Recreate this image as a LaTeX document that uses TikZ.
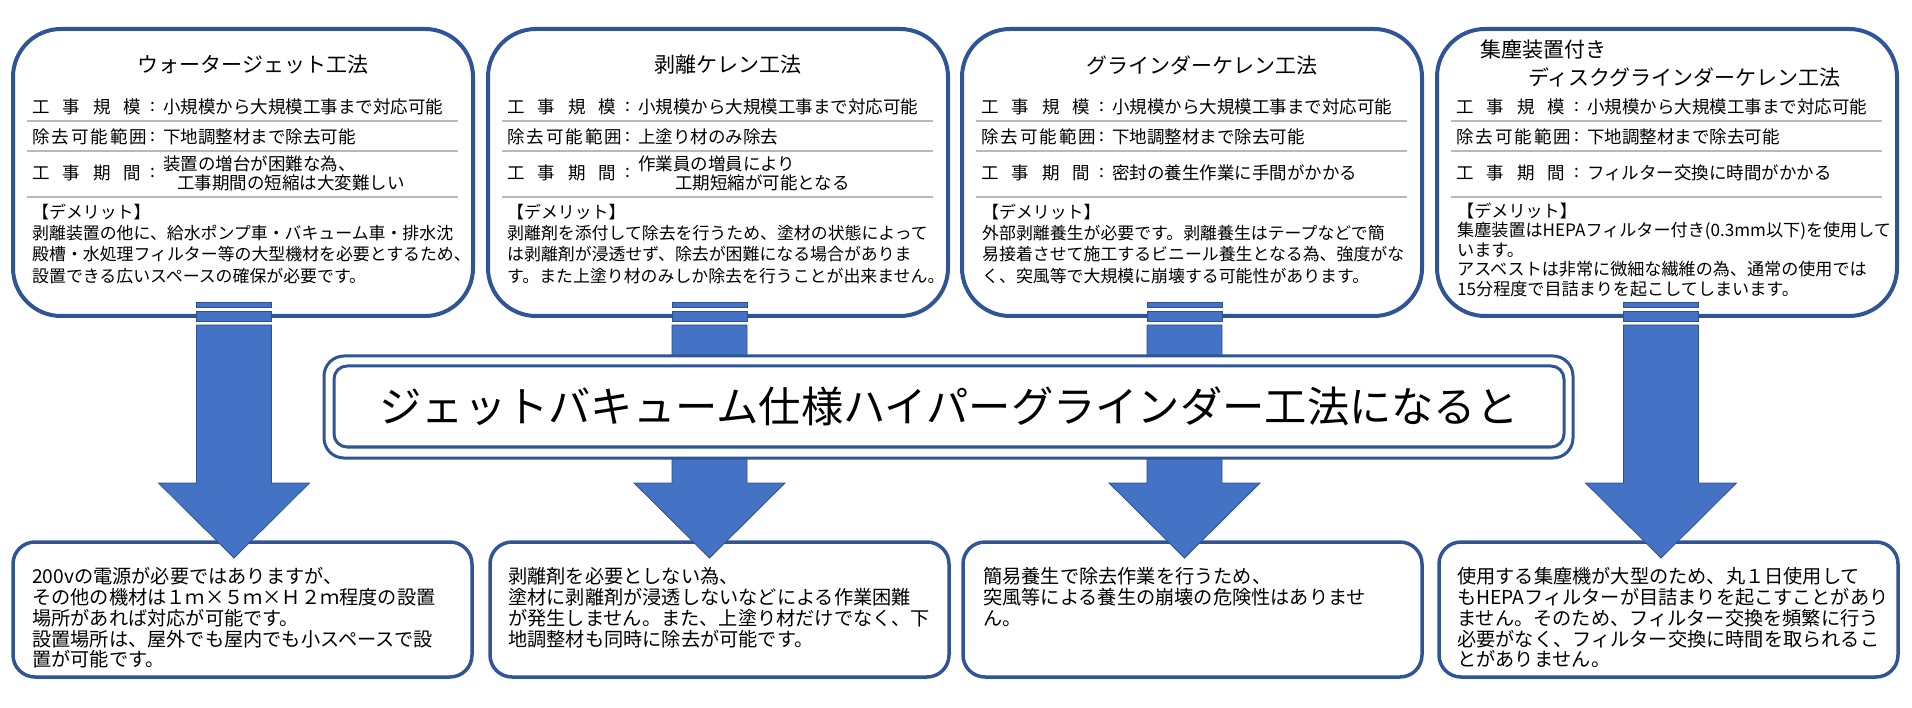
\documentclass[tikz,border=0pt]{standalone}
\usepackage{fontspec}
\setmainfont{Noto Sans CJK JP}
\usepackage{tikz}
\usetikzlibrary{calc}

\definecolor{boxblue}{HTML}{2F5597}
\definecolor{arrowfill}{HTML}{4472C4}
\definecolor{arrowline}{HTML}{2F528F}

\begin{document}
\begin{tikzpicture}[x=1pt,y=-1pt,
    topbox/.style={draw=boxblue, line width=4pt, rounded corners=48pt, fill=white,
      minimum width=460pt, minimum height=287pt, inner sep=0pt},
    botbox/.style={draw=boxblue, line width=3.5pt, rounded corners=22pt, fill=white,
      minimum width=459pt, minimum height=135pt, inner sep=0pt},
    title/.style={inner sep=0pt, font=\fontsize{21}{25}\selectfont},
    row/.style={anchor=west, inner sep=0pt, align=left, font=\fontsize{17.5}{19}\selectfont},
    body/.style={anchor=north west, inner sep=0pt, align=left, font=\fontsize{16.9}{21.4}\selectfont},
    note/.style={anchor=north west, inner sep=0pt, align=left, font=\fontsize{19.2}{20.75}\selectfont},
    rule/.style={draw=gray!55, line width=1.5pt},
    bigarrow/.style={fill=arrowfill, draw=arrowline, line width=0.8pt}]

    \useasboundingbox (0,0) rectangle (1912,708);

    % Top boxes: the four methods
    \foreach \L/\rng [count=\i] in {13/下地調整材まで除去可能, 488/上塗り材のみ除去,
        962/下地調整材まで除去可能, 1437/下地調整材まで除去可能} {
      \node[topbox] (t\i) at (\L+230,172.5) {};
      \draw[rule] (\L+14,121) -- (\L+445,121);
      \draw[rule] (\L+14,151) -- (\L+445,151);
      \draw[rule] (\L+14,197) -- (\L+445,197);
      \node[row] (scale\i) at (\L+19,107) {\makebox[109pt][s]{工\hfill 事\hfill 規\hfill 模}};
      \node[row] at (\L+137,107) {:};
      \node[row] (scaleval\i) at (\L+150,107) {小規模から大規模工事まで対応可能};
      \node[row] (range\i) at (\L+19,137) {\makebox[115pt][s]{除\hfill 去\hfill 可\hfill 能\hfill 範\hfill 囲}};
      \node[row] at (\L+137,137) {:};
      \node[row] (rangeval\i) at (\L+150,137) {\rng};
      \node[row] (term\i) at (\L+19,173) {\makebox[109pt][s]{工\hfill 事\hfill 期\hfill 間}};
      \node[row] at (\L+137,173) {:};
    }

    % Titles
    \node[title] (title1) at (253,65) {ウォータージェット工法};
    \node[title] (title2) at (728,65) {剥離ケレン工法};
    \node[title] (title3) at (1202,65) {グラインダーケレン工法};
    \node[title, anchor=west] (title4a) at (1480,50) {集塵装置付き};
    \node[title, anchor=west] (title4b) at (1528,77) {ディスクグラインダーケレン工法};

    % Work period values
    \node[row] (termval1) at (163,173.5) {装置の増台が困難な為、\\\hspace*{14pt}工事期間の短縮は大変難しい};
    \node[row] (termval2) at (638,173.5) {作業員の増員により\\\hspace*{37pt}工期短縮が可能となる};
    \node[row] (termval3) at (1112,173) {密封の養生作業に手間がかかる};
    \node[row] (termval4) at (1587,173) {フィルター交換に時間がかかる};

    % Demerits
    \node[body] (demerit1) at (32,203.5) {【デメリット】\\剥離装置の他に、給水ポンプ車・バキューム車・排水沈\\殿槽・水処理フィルター等の大型機材を必要とするため、\\設置できる広いスペースの確保が必要です。};
    \node[body] (demerit2) at (507,203.5) {【デメリット】\\剥離剤を添付して除去を行うため、塗材の状態によって\\は剥離剤が浸透せず、除去が困難になる場合がありま\\す。また上塗り材のみしか除去を行うことが出来ません。};
    \node[body] (demerit3) at (982,203.5) {【デメリット】\\外部剥離養生が必要です。剥離養生はテープなどで簡\\易接着させて施工するビニール養生となる為、強度がな\\く、突風等で大規模に崩壊する可能性があります。};
    \node[body, font=\fontsize{17.1}{19.5}\selectfont] (demerit4) at (1457,202.5) {【デメリット】\\集塵装置はHEPAフィルター付き(0.3mm以下)を使用して\\います。\\アスベストは非常に微細な繊維の為、通常の使用では\\15分程度で目詰まりを起こしてしまいます。};

    % Bottom boxes: results
    \foreach \L [count=\i] in {13,490,963,1439}
      \node[botbox] (b\i) at (\L+229.5,609.5) {};

    \node[note] (result1) at (32,567.5) {200vの電源が必要ではありますが、\\その他の機材は１ｍ×５ｍ×Ｈ２ｍ程度の設置\\場所があれば対応が可能です。\\設置場所は、屋外でも屋内でも小スペースで設\\置が可能です。};
    \node[note] (result2) at (508,567.5) {剥離剤を必要としない為、\\塗材に剥離剤が浸透しないなどによる作業困難\\が発生しません。また、上塗り材だけでなく、下\\地調整材も同時に除去が可能です。};
    \node[note] (result3) at (983,567.5) {簡易養生で除去作業を行うため、\\突風等による養生の崩壊の危険性はありませ\\ん。};
    \node[note] (result4) at (1457,567.5) {使用する集塵機が大型のため、丸１日使用して\\もHEPAフィルターが目詰まりを起こすことがあり\\ません。そのため、フィルター交換を頻繁に行う\\必要がなく、フィルター交換に時間を取られるこ\\とがありません。};

    % Striped block arrows from top to bottom
    \foreach \cx in {234,709.5,1184.5,1661} {
      \filldraw[bigarrow] (\cx-37.5,302) rectangle (\cx+37.5,307);
      \filldraw[bigarrow] (\cx-37.5,311) rectangle (\cx+37.5,321);
      \filldraw[bigarrow] (\cx-37.5,325) -- (\cx+37.5,325) -- (\cx+37.5,483)
        -- (\cx+75.5,483) -- (\cx,558) -- (\cx-75.5,483) -- (\cx-37.5,483) -- cycle;
    }

    % Banner across the middle
    \node[draw=boxblue, line width=3pt, rounded corners=20pt, fill=white,
      minimum width=1249pt, minimum height=102pt, inner sep=0pt] (outer) at (948.5,407) {};
    \node[draw=boxblue, line width=3pt, rounded corners=13pt, fill=white,
      minimum width=1230pt, minimum height=81pt, inner sep=0pt] (inner) at (949,406.5) {};
    \node[inner sep=0pt, font=\fontsize{42.3}{46}\selectfont] (headline) at (inner.center)
      {ジェットバキューム仕様ハイパーグラインダー工法になると};
\end{tikzpicture}
\end{document}
